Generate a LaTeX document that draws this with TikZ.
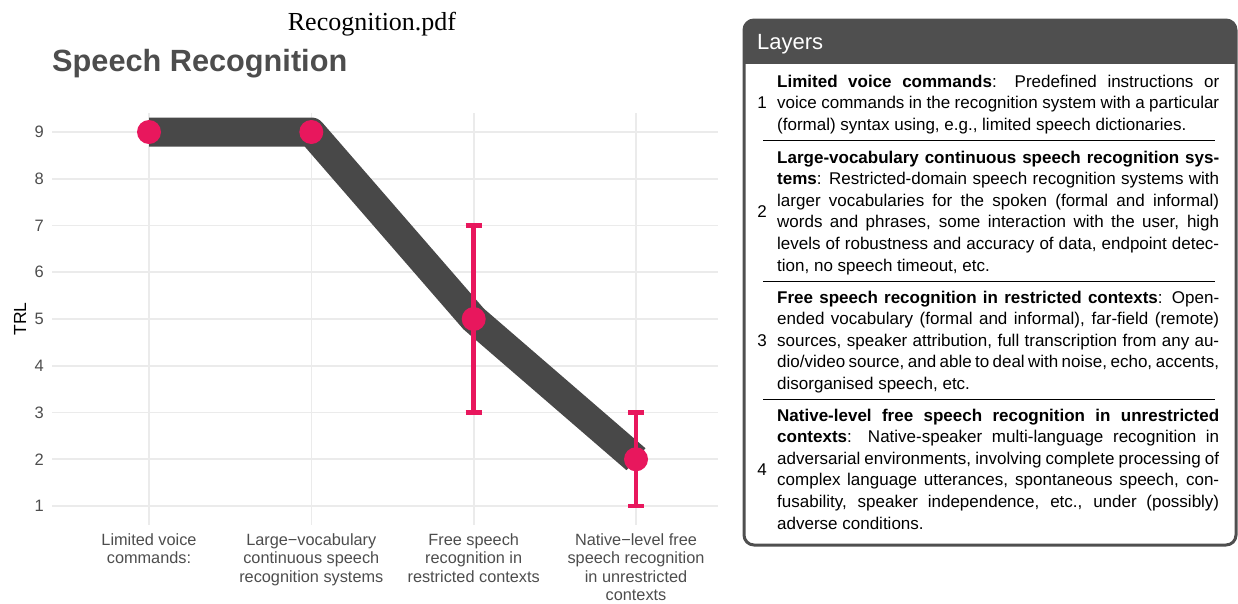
\documentclass[tikz,border=0pt]{standalone}
\usepackage{fontspec}
\setmainfont{Liberation Sans}
\newfontfamily\pdffont{Liberation Serif}
\definecolor{gridc}{HTML}{EBEBEB}
\definecolor{linec}{HTML}{484848}
\definecolor{ptc}{HTML}{E8175D}
\definecolor{axc}{HTML}{4D4D4D}
\definecolor{hdrc}{HTML}{4F4F4F}
\newcommand\jline[1]{\makebox[442pt][s]{#1}}
\begin{document}
\begin{tikzpicture}[x=1pt,y=-1pt,
  gridln/.style={draw=gridc, line width=1.6},
  dataline/.style={draw=linec, line width=29, line join=round, line cap=butt},
  errbar/.style={draw=ptc, line width=4.5},
  errcap/.style={draw=ptc, line width=4.5},
  datapt/.style={circle, fill=ptc, minimum size=24, inner sep=0},
  ticklab/.style={anchor=east, inner sep=0, text=axc, font=\fontsize{16.5}{18}\selectfont},
  catlab/.style={anchor=north, inner sep=0, align=center, text=axc, font=\fontsize{16.3}{18.6}\selectfont},
  boxtxt/.style={anchor=base west, inner sep=0, font=\fontsize{17}{21.6}\selectfont},
  numlab/.style={anchor=base, inner sep=0, font=\fontsize{17}{21.6}\selectfont},
  seprule/.style={draw=black, line width=1}
]
\useasboundingbox (0,0) rectangle (1238,603);

% title texts
\node[anchor=base, inner sep=0, font=\pdffont\fontsize{26}{30}\selectfont] (pdf) at (372,30) {Recognition.pdf};
\node[anchor=base west, inner sep=0, text=axc, font=\bfseries\fontsize{30.7}{34}\selectfont] (title) at (52,71) {Speech Recognition};

% grid
\foreach \v in {1,...,9} {
  \draw[gridln] (52,{132+(9-\v)*46.75}) -- (718,{132+(9-\v)*46.75});
  \node[ticklab] (t\v) at (44,{132+(9-\v)*46.75}) {\v};
}
\foreach \xx in {149,311.3,473.7,636} {
  \draw[gridln] (\xx,113) -- (\xx,525);
}
\node[rotate=90, inner sep=0, font=\fontsize{17.5}{20}\selectfont] (ylab) at (20,319) {TRL};

% category labels
\node[catlab] (c1) at (149,533) {Limited voice\\commands:};
\node[catlab] (c2) at (311.3,533) {Large−vocabulary\\continuous speech\\recognition systems};
\node[catlab] (c3) at (473.7,533) {Free speech\\recognition in\\restricted contexts};
\node[catlab] (c4) at (636,533) {Native−level free\\speech recognition\\in unrestricted\\contexts};

% data
\coordinate (p1) at (149,132);
\coordinate (p2) at (311.3,132);
\coordinate (p3) at (473.7,319);
\coordinate (p4) at (636,459.25);
\draw[dataline] (p1) -- (p2) -- (p3) -- (p4);

\coordinate (e3h) at (473.7,225.5);
\coordinate (e3l) at (473.7,412.5);
\coordinate (e4h) at (636,412.5);
\coordinate (e4l) at (636,506);
\draw[errbar] (e3h) -- (e3l);
\draw[errbar] (e4h) -- (e4l);
\draw[errcap] ([xshift=-8pt]e3h) -- ([xshift=8pt]e3h);
\draw[errcap] ([xshift=-8pt]e3l) -- ([xshift=8pt]e3l);
\draw[errcap] ([xshift=-8pt]e4h) -- ([xshift=8pt]e4h);
\draw[errcap] ([xshift=-8pt]e4l) -- ([xshift=8pt]e4l);

\node[datapt] (n1) at (p1) {};
\node[datapt] (n2) at (p2) {};
\node[datapt] (n3) at (p3) {};
\node[datapt] (n4) at (p4) {};

% legend box
\begin{scope}
  \clip[rounded corners=10] (744,20) rectangle (1236,545);
  \fill[hdrc] (744,20) rectangle (1236,64);
\end{scope}
\draw[hdrc, line width=3, rounded corners=10] (744,20) rectangle (1236,545);
\node[anchor=base west, inner sep=0, text=white, font=\fontsize{22}{26}\selectfont] (hdr) at (757,49) {Layers};

% block 1
\node[numlab] (num1) at (762,108.6) {1};
\node[boxtxt] (a1) at (777,87) {\jline{\textbf{Limited voice commands}: Predefined instructions or}};
\node[boxtxt] (a2) at (777,108.6) {\jline{voice commands in the recognition system with a particular}};
\node[boxtxt] (a3) at (777,130.2) {(formal) syntax using, e.g., limited speech dictionaries.};
\draw[seprule] (763,140) -- (1215,140);

% block 2
\node[numlab] (num2) at (762,217) {2};
\node[boxtxt] (b1) at (777,163) {\jline{\textbf{Large-vocabulary continuous speech recognition sys-}}};
\node[boxtxt] (b2) at (777,184.6) {\jline{\textbf{tems}: Restricted-domain speech recognition systems with}};
\node[boxtxt] (b3) at (777,206.2) {\jline{larger vocabularies for the spoken (formal and informal)}};
\node[boxtxt] (b4) at (777,227.8) {\jline{words and phrases, some interaction with the user, high}};
\node[boxtxt] (b5) at (777,249.4) {\jline{levels of robustness and accuracy of data, endpoint detec-}};
\node[boxtxt] (b6) at (777,271) {tion, no speech timeout, etc.};
\draw[seprule] (763,281) -- (1215,281);

% block 3
\node[numlab] (num3) at (762,346.2) {3};
\node[boxtxt] (d1) at (777,303) {\jline{\textbf{Free speech recognition in restricted contexts}: Open-}};
\node[boxtxt] (d2) at (777,324.6) {\jline{ended vocabulary (formal and informal), far-field (remote)}};
\node[boxtxt] (d3) at (777,346.2) {\jline{sources, speaker attribution, full transcription from any au-}};
\node[boxtxt] (d4) at (777,367.8) {\jline{dio/video source, and able to deal with noise, echo, accents,}};
\node[boxtxt] (d5) at (777,389.4) {disorganised speech, etc.};
\draw[seprule] (763,399) -- (1215,399);

% block 4
\node[numlab] (num4) at (762,475) {4};
\node[boxtxt] (f1) at (777,421) {\jline{\textbf{Native-level free speech recognition in unrestricted}}};
\node[boxtxt] (f2) at (777,442.6) {\jline{\textbf{contexts}: Native-speaker multi-language recognition in}};
\node[boxtxt] (f3) at (777,464.2) {\jline{adversarial environments, involving complete processing of}};
\node[boxtxt] (f4) at (777,485.8) {\jline{complex language utterances, spontaneous speech, con-}};
\node[boxtxt] (f5) at (777,507.4) {\jline{fusability, speaker independence, etc., under (possibly)}};
\node[boxtxt] (f6) at (777,529) {adverse conditions.};
\end{tikzpicture}
\end{document}
